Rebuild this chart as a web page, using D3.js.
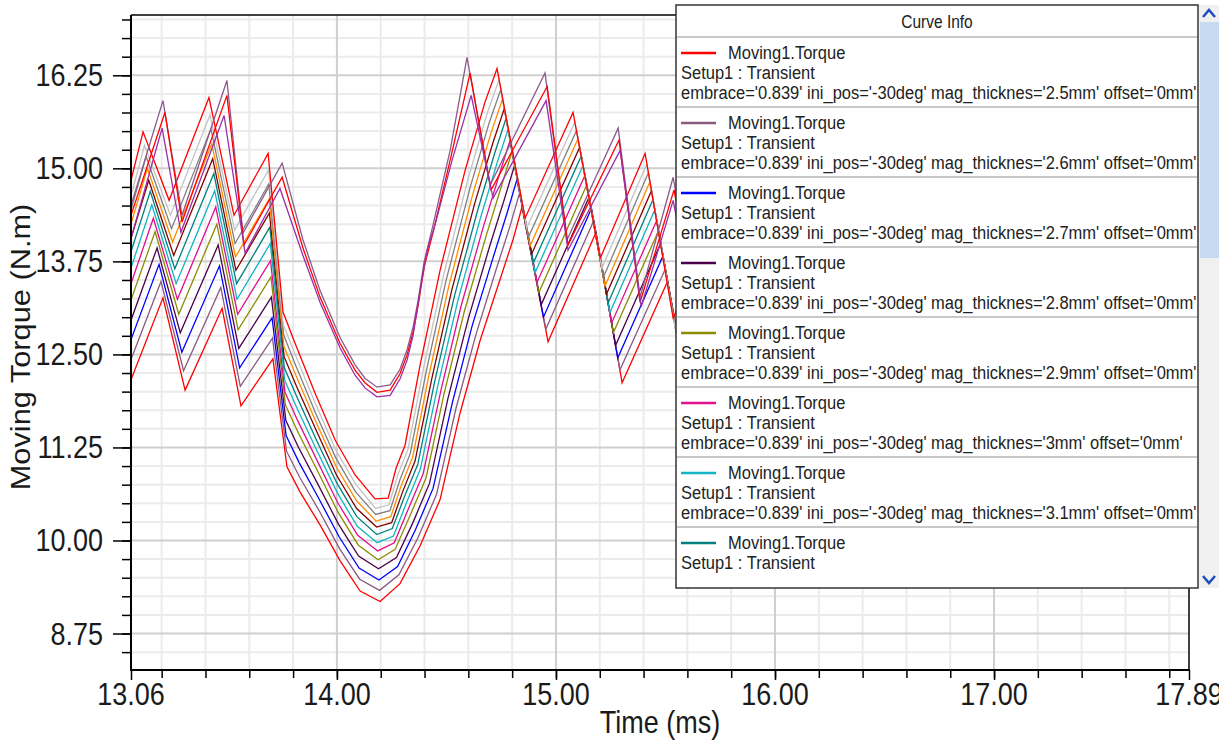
<!DOCTYPE html>
<html>
<head>
<meta charset="utf-8">
<script src="https://cdn.jsdelivr.net/npm/d3@7"></script>
<style>
  html, body { margin: 0; padding: 0; background: #fff; }
  svg { display: block; font-family: "Liberation Sans", Arial, sans-serif; }
</style>
</head>
<body>
<svg id="chart" width="1219" height="742"></svg>
<script>
// ---- axis ticks / labels ----
var xMajorTicks = [13.06, 14, 15, 16, 17, 17.89];
var xTickLabels = ["13.06", "14.00", "15.00", "16.00", "17.00", "17.89"];
var yMajorTicks = [8.75, 10, 11.25, 12.5, 13.75, 15, 16.25];
var yTickLabels = ["8.75", "10.00", "11.25", "12.50", "13.75", "15.00", "16.25"];

// ---- curves: [time (ms), torque (N.m)] ----
var magThk25 = [[13.06,12.16],[13.206,13.26],[13.307,12.02],[13.476,13.12],[13.562,11.81],[13.708,12.44],
  [13.772,10.99],[13.832,10.65],[13.923,10.21],[14.014,9.73],[14.106,9.32],[14.197,9.18],[14.288,9.42],[14.380,9.93],[14.471,10.55],[14.562,11.71],[14.654,12.69],[14.745,13.51],[14.804,14.04],
  [14.845,14.48],[14.964,12.67],[15.183,14.14],[15.302,12.12],[15.508,13.47],[15.645,11.35],[15.850,12.76]];
var magThk26 = [[13.06,12.43],[13.197,13.48],[13.300,12.28],[13.470,13.40],[13.559,12.07],[13.706,12.72],
  [13.770,11.20],[13.830,10.85],[13.921,10.39],[14.012,9.89],[14.104,9.48],[14.195,9.33],[14.283,9.54],[14.369,10.03],[14.455,10.62],[14.544,11.78],[14.636,12.78],[14.729,13.66],[14.791,14.23],
  [14.834,14.67],[14.954,12.84],[15.173,14.30],[15.292,12.29],[15.498,13.64],[15.634,11.51],[15.839,12.92]];
var magThk27 = [[13.06,12.70],[13.188,13.71],[13.292,12.53],[13.464,13.69],[13.556,12.32],[13.704,12.99],
  [13.768,11.41],[13.827,11.05],[13.918,10.56],[14.010,10.05],[14.101,9.63],[14.192,9.47],[14.277,9.65],[14.358,10.14],[14.439,10.70],[14.526,11.84],[14.617,12.88],[14.713,13.80],[14.778,14.41],
  [14.822,14.85],[14.943,13.00],[15.162,14.46],[15.282,12.45],[15.488,13.82],[15.623,11.68],[15.828,13.08]];
var magThk28 = [[13.06,12.96],[13.179,13.93],[13.285,12.79],[13.458,13.97],[13.552,12.58],[13.701,13.27],
  [13.767,11.61],[13.825,11.25],[13.916,10.74],[14.007,10.22],[14.099,9.79],[14.190,9.62],[14.272,9.77],[14.347,10.24],[14.423,10.77],[14.507,11.91],[14.599,12.97],[14.697,13.95],[14.766,14.60],
  [14.811,15.04],[14.933,13.17],[15.152,14.62],[15.272,12.62],[15.478,13.99],[15.612,11.84],[15.817,13.24]];
var magThk29 = [[13.06,13.23],[13.170,14.15],[13.278,13.04],[13.452,14.25],[13.549,12.83],[13.699,13.54],
  [13.765,11.82],[13.823,11.45],[13.914,10.92],[14.005,10.38],[14.097,9.94],[14.188,9.74],[14.266,9.88],[14.336,10.35],[14.407,10.84],[14.489,11.97],[14.581,13.07],[14.681,14.09],[14.753,14.78],
  [14.799,15.22],[14.922,13.33],[15.141,14.78],[15.262,12.79],[15.468,14.16],[15.601,12.01],[15.806,13.40]];
var magThk30 = [[13.06,13.45],[13.162,14.33],[13.272,13.24],[13.447,14.48],[13.547,13.04],[13.697,13.76],
  [13.763,11.99],[13.821,11.61],[13.912,11.06],[14.003,10.51],[14.095,10.07],[14.186,9.86],[14.262,9.97],[14.327,10.43],[14.394,10.90],[14.475,12.02],[14.566,13.14],[14.668,14.21],[14.743,14.93],
  [14.790,15.37],[14.914,13.47],[15.133,14.91],[15.254,12.92],[15.460,14.30],[15.592,12.14],[15.797,13.53]];
var magThk31 = [[13.06,13.66],[13.155,14.51],[13.266,13.45],[13.442,14.70],[13.544,13.24],[13.696,13.99],
  [13.762,12.15],[13.819,11.77],[13.910,11.20],[14.002,10.64],[14.093,10.19],[14.184,9.97],[14.258,10.06],[14.318,10.51],[14.381,10.96],[14.460,12.07],[14.552,13.22],[14.655,14.33],[14.732,15.08],
  [14.781,15.52],[14.905,13.60],[15.124,15.04],[15.246,13.06],[15.451,14.44],[15.583,12.27],[15.788,13.66]];
var magThk32 = [[13.06,13.88],[13.148,14.69],[13.260,13.65],[13.438,14.93],[13.542,13.45],[13.694,14.21],
  [13.760,12.32],[13.817,11.93],[13.908,11.34],[14.000,10.77],[14.091,10.32],[14.182,10.08],[14.253,10.16],[14.310,10.60],[14.369,11.02],[14.446,12.13],[14.537,13.29],[14.643,14.44],[14.722,15.22],
  [14.772,15.67],[14.897,13.73],[15.116,15.17],[15.238,13.19],[15.443,14.58],[15.575,12.40],[15.780,13.79]];
var magThk33 = [[13.06,14.06],[13.141,14.84],[13.255,13.83],[13.433,15.13],[13.539,13.63],[13.692,14.40],
  [13.759,12.47],[13.816,12.07],[13.907,11.47],[13.998,10.88],[14.090,10.43],[14.181,10.18],[14.250,10.24],[14.302,10.67],[14.357,11.07],[14.433,12.17],[14.524,13.36],[14.631,14.55],[14.713,15.35],
  [14.764,15.80],[14.889,13.85],[15.108,15.28],[15.231,13.31],[15.436,14.70],[15.567,12.51],[15.772,13.90]];
var magThk34 = [[13.06,14.25],[13.135,15.00],[13.250,14.01],[13.429,15.33],[13.537,13.81],[13.691,14.59],
  [13.758,12.61],[13.814,12.21],[13.905,11.59],[13.997,10.99],[14.088,10.54],[14.179,10.26],[14.246,10.32],[14.294,10.74],[14.346,11.12],[14.420,12.22],[14.511,13.42],[14.620,14.65],[14.704,15.48],
  [14.756,15.93],[14.882,13.96],[15.101,15.40],[15.224,13.42],[15.429,14.82],[15.559,12.63],[15.764,14.02]];
var magThk35 = [[13.06,14.44],[13.129,15.16],[13.245,14.19],[13.425,15.53],[13.535,13.99],[13.689,14.79],
  [13.757,12.76],[13.812,12.35],[13.903,11.71],[13.995,11.11],[14.086,10.65],[14.177,10.35],[14.242,10.40],[14.287,10.81],[14.335,11.17],[14.407,12.26],[14.498,13.49],[14.609,14.75],[14.695,15.61],
  [14.748,16.06],[14.875,14.08],[15.094,15.51],[15.217,13.54],[15.422,14.94],[15.552,12.74],[15.757,14.13]];
var magThk36 = [[13.06,14.63],[13.122,15.31],[13.240,14.37],[13.421,15.72],[13.533,14.17],[13.688,14.98],
  [13.755,12.90],[13.811,12.49],[13.902,11.84],[13.994,11.22],[14.085,10.76],[14.176,10.43],[14.238,10.48],[14.279,10.89],[14.324,11.22],[14.395,12.31],[14.486,13.55],[14.598,14.85],[14.686,15.74],
  [14.740,16.19],[14.867,14.20],[15.086,15.62],[15.210,13.66],[15.415,15.06],[15.544,12.86],[15.749,14.24]];
var magThk37 = [[13.06,14.84],[13.115,15.49],[13.234,14.57],[13.416,15.95],[13.530,14.37],[13.686,15.20],
  [13.754,13.07],[13.809,12.65],[13.900,11.98],[13.992,11.35],[14.083,10.88],[14.174,10.56],[14.234,10.57],[14.270,10.97],[14.311,11.28],[14.380,12.36],[14.471,13.63],[14.585,14.97],[14.676,15.89],
  [14.731,16.34],[14.859,14.33],[15.078,15.75],[15.202,13.79],[15.407,15.20],[15.535,12.99],[15.740,14.37]];

// upper family (different phase)
var upperMauve = [[13.060,14.50],[13.206,15.91],[13.293,14.37],[13.498,16.18],[13.571,14.13],[13.750,15.07],
  [13.845,14.04],[13.923,13.36],[14.014,12.73],[14.083,12.36],[14.128,12.18],[14.183,12.06],[14.243,12.09],[14.288,12.30],
  [14.320,12.56],[14.348,12.87],[14.371,13.23],[14.398,13.74],[14.439,14.24],[14.517,15.24],[14.594,16.49],[14.699,14.77],
  [14.950,16.28],[15.051,14.04],[15.284,15.54],[15.384,13.27],[15.535,14.88],[15.658,12.83]];
var upperRed = [[13.060,14.37],[13.215,15.75],[13.293,14.28],[13.498,15.98],[13.576,13.97],[13.750,14.88],
  [13.845,13.93],[13.923,13.27],[14.014,12.65],[14.083,12.29],[14.128,12.12],[14.183,11.99],[14.243,12.02],[14.288,12.24],
  [14.320,12.49],[14.348,12.80],[14.371,13.16],[14.398,13.67],[14.439,14.14],[14.517,15.11],[14.608,16.28],[14.704,14.71],
  [14.960,16.10],[15.055,13.97],[15.288,15.38],[15.384,13.20],[15.539,14.71],[15.658,12.76]];
var upperPurple = [[13.060,14.06],[13.202,15.54],[13.288,14.14],[13.485,15.71],[13.581,13.86],[13.740,14.73],
  [13.845,13.83],[13.923,13.20],[14.014,12.59],[14.083,12.22],[14.128,12.05],[14.183,11.93],[14.243,11.95],[14.288,12.17],
  [14.320,12.42],[14.348,12.76],[14.380,13.36],[14.412,13.90],[14.448,14.24],[14.526,15.11],[14.613,15.98],[14.713,14.60],
  [14.955,15.91],[15.055,13.90],[15.293,15.24],[15.389,13.14],[15.535,14.57],[15.658,12.69]];

var curves = [magThk25, magThk26, magThk27, magThk28, magThk29, magThk30, magThk31, magThk32,
              magThk33, magThk34, magThk35, magThk36, magThk37, upperMauve, upperRed, upperPurple];
var colors = ['#ff0000','#8a5a80','#0000ff','#4b004b','#8c8c00','#e0108c','#10b4c4','#008080',
              '#800000','#ff8c00','#808080','#c4c4c4','#ff0000','#8c5a8c','#ff0000','#9a2fa8'];

// legend
var legendColors = ['#ff0000','#8a5a80','#0000ff','#4b004b','#8c8c00','#e0108c','#10b4c4','#008080'];
var legendThk = ['2.5mm','2.6mm','2.7mm','2.8mm','2.9mm','3mm','3.1mm','3.2mm'];

var svg = d3.select('#chart');
var stretch = 1.14;

var x = d3.scaleLinear().domain([13.06, 17.89]).range([131, 1189]);
var y = d3.scaleLinear().domain([8.26, 17.06]).range([670, 15]);

var xMinor = d3.range(13.2, 17.85, 0.2).map(function(d){ return +d.toFixed(2); });
var yMinor = d3.range(8.5, 17.01, 0.25);
var isMajorX = function(d){ return Math.abs(d - Math.round(d)) < 1e-6; };
var isMajorY = function(d){ return yMajorTicks.some(function(m){ return Math.abs(m - d) < 1e-6; }); };

// grid
var grid = svg.append('g');
grid.selectAll('.vminor').data(xMinor.filter(function(d){ return !isMajorX(d); }))
  .enter().append('line')
  .attr('x1', function(d){ return x(d); }).attr('x2', function(d){ return x(d); })
  .attr('y1', 15).attr('y2', 670)
  .style('stroke', '#ebebeb').style('stroke-width', 2);
grid.selectAll('.hminor').data(yMinor.filter(function(d){ return !isMajorY(d); }))
  .enter().append('line')
  .attr('x1', 131).attr('x2', 1189)
  .attr('y1', function(d){ return y(d); }).attr('y2', function(d){ return y(d); })
  .style('stroke', '#ebebeb').style('stroke-width', 2);
grid.selectAll('.vmajor').data([14, 15, 16, 17])
  .enter().append('line')
  .attr('x1', function(d){ return x(d); }).attr('x2', function(d){ return x(d); })
  .attr('y1', 15).attr('y2', 670)
  .style('stroke', '#cfcfcf').style('stroke-width', 2);
grid.selectAll('.hmajor').data(yMajorTicks)
  .enter().append('line')
  .attr('x1', 131).attr('x2', 1189)
  .attr('y1', function(d){ return y(d); }).attr('y2', function(d){ return y(d); })
  .style('stroke', '#cfcfcf').style('stroke-width', 2);

// curves
svg.append('clipPath').attr('id', 'plotclip')
  .append('rect').attr('x', 131).attr('y', 15).attr('width', 1058).attr('height', 655);

var line = d3.line()
  .x(function(d){ return x(d[0]); })
  .y(function(d){ return y(d[1]); });

svg.append('g').attr('clip-path', 'url(#plotclip)')
  .selectAll('path').data(curves).enter().append('path')
  .attr('d', line)
  .style('fill', 'none')
  .style('stroke', function(d, i){ return colors[i]; })
  .style('stroke-width', 1.3)
  .style('stroke-linejoin', 'miter');

// ticks
function styleAxis(g) {
  g.select('.domain').remove();
  g.selectAll('line').style('stroke', '#000').style('stroke-width', 1.5);
}
svg.append('g').attr('transform', 'translate(131,0)')
  .call(d3.axisLeft(y).tickValues(yMinor).tickSize(9).tickSizeOuter(0).tickFormat(''))
  .call(styleAxis);
svg.append('g').attr('transform', 'translate(131,0)')
  .call(d3.axisLeft(y).tickValues(yMajorTicks).tickSize(18).tickSizeOuter(0).tickFormat(''))
  .call(styleAxis);
svg.append('g').attr('transform', 'translate(0,670)')
  .call(d3.axisBottom(x).tickValues(xMinor).tickSize(8).tickSizeOuter(0).tickFormat(''))
  .call(styleAxis);
svg.append('g').attr('transform', 'translate(0,670)')
  .call(d3.axisBottom(x).tickValues(xMajorTicks).tickSize(10).tickSizeOuter(0).tickFormat(''))
  .call(styleAxis);

// frame
svg.append('line').attr('x1', 131).attr('x2', 131).attr('y1', 15).attr('y2', 671)
  .style('stroke', '#000').style('stroke-width', 2);
svg.append('line').attr('x1', 130).attr('x2', 1190).attr('y1', 670).attr('y2', 670)
  .style('stroke', '#000').style('stroke-width', 2);
svg.append('line').attr('x1', 131).attr('x2', 1189).attr('y1', 15).attr('y2', 15)
  .style('stroke', '#000').style('stroke-width', 1.5);
svg.append('line').attr('x1', 1189).attr('x2', 1189).attr('y1', 15).attr('y2', 670)
  .style('stroke', '#000').style('stroke-width', 1.5);

// tick labels (source image is a little stretched vertically)
svg.selectAll('.ylab').data(yMajorTicks).enter().append('text')
  .attr('transform', function(d){ return 'translate(103,' + (y(d) + 11) + ') scale(1,' + stretch + ')'; })
  .attr('text-anchor', 'end')
  .style('font-size', '27px').style('fill', '#1a1a1a')
  .text(function(d, i){ return yTickLabels[i]; });
svg.selectAll('.xlab').data(xMajorTicks).enter().append('text')
  .attr('transform', function(d){ return 'translate(' + x(d) + ',705) scale(1,' + stretch + ')'; })
  .attr('text-anchor', 'middle')
  .style('font-size', '27px').style('fill', '#1a1a1a')
  .text(function(d, i){ return xTickLabels[i]; });

svg.append('text')
  .attr('transform', 'translate(660,733) scale(1,' + stretch + ')')
  .attr('text-anchor', 'middle')
  .style('font-size', '27px').style('fill', '#1a1a1a')
  .text('Time (ms)');
svg.append('text')
  .attr('transform', 'translate(30,347) scale(1,' + stretch + ') rotate(-90)')
  .attr('text-anchor', 'middle')
  .style('font-size', '27px').style('fill', '#1a1a1a')
  .text('Moving Torque (N.m)');

// legend box
var lg = svg.append('g');
lg.append('rect').attr('x', 676).attr('y', 5).attr('width', 522).attr('height', 583)
  .style('fill', '#fff').style('stroke', '#333').style('stroke-width', 1.5);
lg.append('text')
  .attr('transform', 'translate(937,28) scale(1,' + stretch + ')')
  .attr('text-anchor', 'middle')
  .style('font-size', '15.5px').style('fill', '#222')
  .text('Curve Info');
lg.append('line').attr('x1', 677).attr('x2', 1197).attr('y1', 37).attr('y2', 37)
  .style('stroke', '#c8c8c8').style('stroke-width', 2);

svg.append('clipPath').attr('id', 'legclip')
  .append('rect').attr('x', 676).attr('y', 38).attr('width', 522).attr('height', 536);

var entries = lg.append('g').attr('clip-path', 'url(#legclip)')
  .selectAll('g').data(legendColors).enter().append('g')
  .attr('transform', function(d, i){ return 'translate(0,' + (37 + 70 * i) + ')'; });

entries.append('line').attr('x1', 681).attr('x2', 716).attr('y1', 16).attr('y2', 16)
  .style('stroke', function(d){ return d; }).style('stroke-width', 2.5);
entries.append('text')
  .attr('transform', 'translate(728,22) scale(1,' + stretch + ')')
  .style('font-size', '16.5px').style('fill', '#222')
  .text('Moving1.Torque');
entries.append('text')
  .attr('transform', 'translate(681,42) scale(1,' + stretch + ')')
  .style('font-size', '16.5px').style('fill', '#222')
  .text('Setup1 : Transient');
entries.append('text')
  .attr('transform', 'translate(681,62) scale(1,' + stretch + ')')
  .style('font-size', '16.5px').style('fill', '#222')
  .text(function(d, i){ return "embrace='0.839' ini_pos='-30deg' mag_thicknes='" + legendThk[i] + "' offset='0mm'"; });
entries.filter(function(d, i){ return i < legendColors.length - 1; })
  .append('line').attr('x1', 677).attr('x2', 1197).attr('y1', 70).attr('y2', 70)
  .style('stroke', '#c8c8c8').style('stroke-width', 2);

// scrollbar
var sb = svg.append('g');
sb.append('rect').attr('x', 1199).attr('y', 5).attr('width', 20).attr('height', 583).style('fill', '#f0f0f0');
sb.append('rect').attr('x', 1200).attr('y', 22).attr('width', 19).attr('height', 236).style('fill', '#c6daf2');
sb.append('path').attr('d', 'M1203,17 L1209,10 L1215,17')
  .style('fill', 'none').style('stroke', '#1f4fbf').style('stroke-width', 2.5);
sb.append('path').attr('d', 'M1203,576 L1209,583 L1215,576')
  .style('fill', 'none').style('stroke', '#1f4fbf').style('stroke-width', 2.5);
</script>
</body>
</html>
